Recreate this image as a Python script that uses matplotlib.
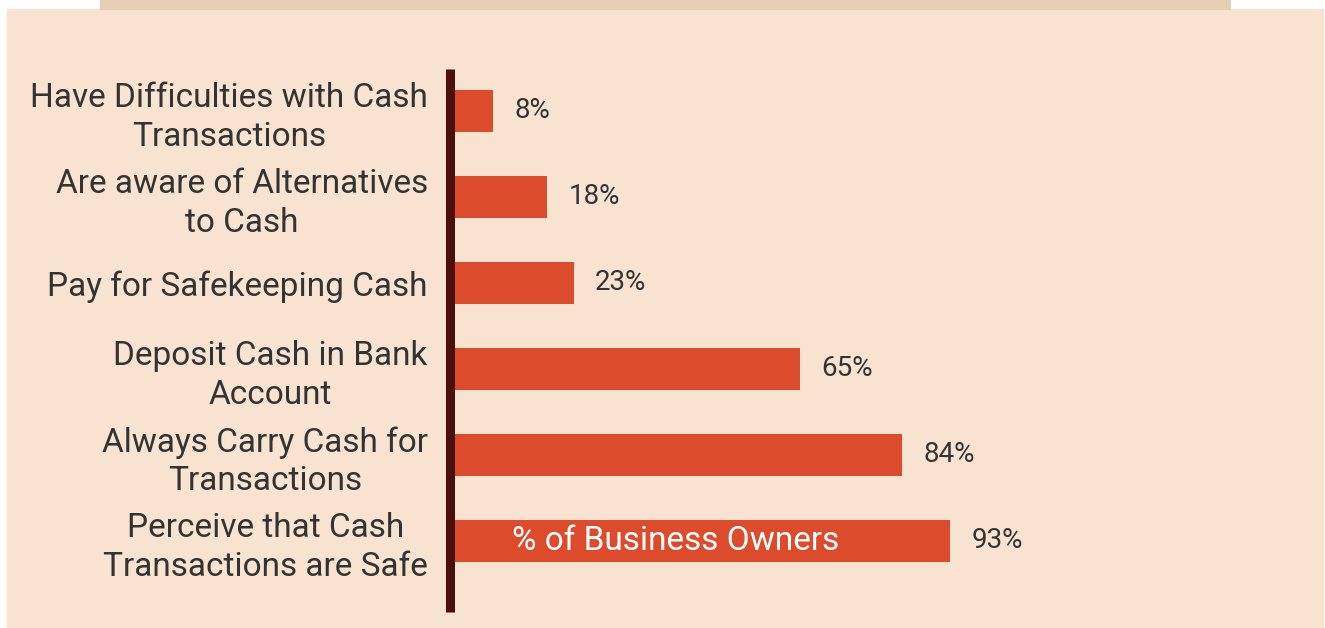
import matplotlib.pyplot as plt
from matplotlib.patches import Rectangle

# survey answers, top to bottom
categories = [
    "Have Difficulties with Cash\nTransactions",
    "Are aware of Alternatives\nto Cash",
    "Pay for Safekeeping Cash",
    "Deposit Cash in Bank\nAccount",
    "Always Carry Cash for\nTransactions",
    "Perceive that Cash\nTransactions are Safe",
]
values = [8, 18, 23, 65, 84, 93]
value_labels = ["8%", "18%", "23%", "65%", "84%", "93%"]
series_name = "% of Business Owners"

bar_color = "#DC4C2C"
spine_color = "#4A100B"
panel_color = "#F7E3D0"
band_color = "#E5CEB3"
text_color = "#333333"

plt.rcParams['font.family'] = ['Roboto', 'DejaVu Sans']

W, H = 1325, 628
fig = plt.figure(figsize=(W / 100, H / 100), dpi=100)
fig.patch.set_facecolor("white")

# background panel and the darker strip above it
fig.patches.append(Rectangle((7 / W, 0), 1316 / W, 1 - 9 / H,
                             transform=fig.transFigure, color=panel_color, zorder=-2))
fig.patches.append(Rectangle((100 / W, 1 - 9 / H), 1130 / W, 9 / H,
                             transform=fig.transFigure, color=band_color, zorder=-2))

ax = fig.add_axes([450 / W, 1 - 612 / H, 780 / W, 543 / H])
ax.set_facecolor("none")

ypos = list(range(len(categories)))
ax.barh(ypos, values, height=0.49, color=bar_color, zorder=2)
ax.set_xlim(0, 145)
ax.set_ylim(5.826, -0.488)

for y, v, lab in zip(ypos, values, value_labels):
    ax.text(v + 4, y, lab, va="center", ha="left", fontsize=20, color=text_color)

ax.set_yticks(ypos)
ax.set_yticklabels(categories, fontsize=24, color=text_color, linespacing=1.25,
                   ha="right", multialignment="center")
ax.tick_params(axis="y", length=0, pad=16)
ax.set_xticks([])

for s in ["top", "right", "bottom"]:
    ax.spines[s].set_visible(False)
ax.spines["left"].set_color(spine_color)
ax.spines["left"].set_linewidth(6.5)
ax.spines["left"].set_capstyle("butt")
ax.spines["left"].set_zorder(3)

ax.text(42, ypos[-1], series_name, ha="center", va="center",
        fontsize=24, color="white", zorder=4)

fig.savefig("out.png", dpi=100)
